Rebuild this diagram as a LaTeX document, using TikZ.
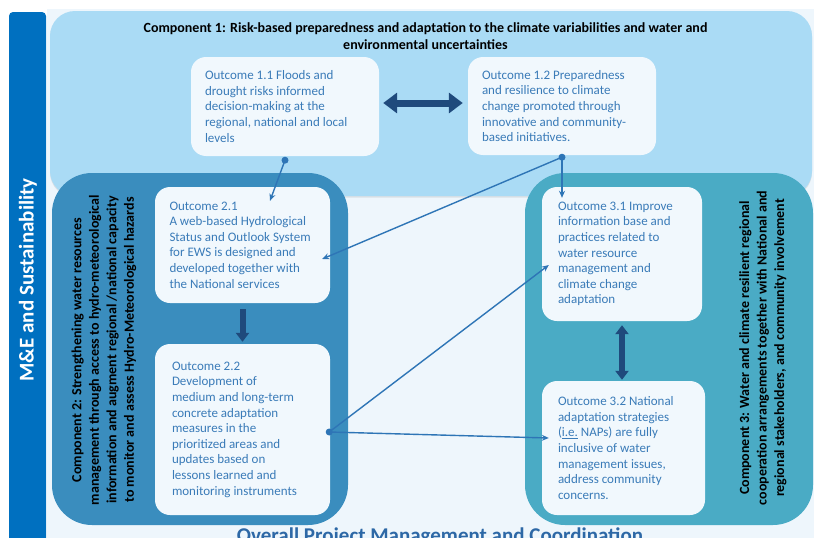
\documentclass[tikz,border=0pt]{standalone}
\usepackage{fontspec}
\setmainfont{Carlito}
\usetikzlibrary{arrows.meta,calc,shadows}

\definecolor{mebar}{HTML}{0070C0}
\definecolor{pale}{HTML}{EEF6FC}
\definecolor{compone}{HTML}{AADBF5}
\definecolor{comptwo}{HTML}{3A8DBE}
\definecolor{compthree}{HTML}{4AABC5}
\definecolor{boxfill}{HTML}{F1F8FD}
\definecolor{outtext}{HTML}{3A7BB8}
\definecolor{linkblue}{HTML}{2E75B6}
\definecolor{navy}{HTML}{1F4A7C}
\definecolor{footer}{HTML}{2D68A6}

\tikzset{
  compbox/.style={rounded corners=#1, inner sep=0pt, draw=none},
  outbox/.style={fill=boxfill, rounded corners=15pt, align=flush left,
    inner ysep=0pt, font=\fontsize{13}{15.6}\selectfont, text=outtext},
  complabel/.style={font=\bfseries\fontsize{14}{17.5}\selectfont,
    align=center, rotate=90, inner sep=0pt},
  linkline/.style={draw=linkblue, line width=1.4pt,
    -{Stealth[length=7pt,width=6pt]}},
  fatarrow/.style={draw=navy, line width=#1}
}

\begin{document}
\begin{tikzpicture}[x=1pt,y=-1pt]
\clip (0,0) rectangle (814,538);
\fill[white] (0,0) rectangle (814,538);

% page background and M&E bar
\fill[pale] (47,9) rectangle (814,538);
\fill[mebar, rounded corners=4pt] (9,12) rectangle (46,560);
\node[rotate=90, text=white, font=\bfseries\fontsize{21}{25}\selectfont,
  inner sep=0pt] (me) at (28,280) {M\&E and Sustainability};

% component panels
\node[compbox=25pt, fill=compone, minimum width=762, minimum height=185,
  drop shadow={opacity=0.18, shadow xshift=0pt, shadow yshift=-1.5pt}]
  (c1) at (431,103.5) {};
\node[compbox=40pt, fill=comptwo, minimum width=296, minimum height=352]
  (c2) at (200,349) {};
\node[compbox=40pt, fill=compthree, minimum width=288, minimum height=352]
  (c3) at (669,349) {};

% component titles
\node[font=\bfseries\fontsize{14}{17}\selectfont, align=center,
  inner sep=0pt] (t1) at (425.5,36)
  {Component 1: Risk-based preparedness and adaptation to the climate variabilities and water and\\
   environmental uncertainties};
\node[complabel] (t2) at (104,350)
  {Component 2: Strengthening water resources\\
   management through access to hydro-meteorological\\
   information and augment regional /national capacity\\
   to monitor and assess Hydro-Meteorological hazards};
\node[complabel] (t3) at (763,348)
  {Component 3: Water and climate resilient regional\\
   cooperation arrangements together with National and\\
   regional stakeholders, and community involvement};

% outcomes
\node[outbox, inner xsep=14pt, text width=160, minimum height=99]
  (o11) at (285,106.5)
  {Outcome 1.1 Floods and\\ drought risks informed\\ decision-making at the\\
   regional, national and local\\ levels};
\node[outbox, inner xsep=14pt, text width=160, minimum height=98]
  (o12) at (562,106)
  {Outcome 1.2 Preparedness\\ and resilience to climate\\ change promoted through\\
   innovative and community-\\ based initiatives.};
\node[outbox, inner xsep=14.5pt, text width=146, minimum height=116]
  (o21) at (242.5,245)
  {Outcome 2.1\\ A web-based Hydrological\\ Status and Outlook System\\
   for EWS is designed and\\ developed together with\\ the National services};
\node[outbox, inner xsep=17pt, text width=141, minimum height=171]
  (o22) at (242.5,429.5)
  {Outcome 2.2\\ Development of\\ medium and long-term\\ concrete adaptation\\
   measures in the\\ prioritized areas and\\ updates based on\\
   lessons learned and\\ monitoring instruments};
\node[outbox, inner xsep=16pt, text width=128, minimum height=134]
  (o31) at (622,254)
  {Outcome 3.1 Improve\\ information base and\\ practices related to\\
   water resource\\ management and\\ climate change\\ adaptation};
\node[outbox, inner xsep=16pt, text width=131, minimum height=134]
  (o32) at (623.5,448)
  {Outcome 3.2 National\\ adaptation strategies\\ (\underline{i.e.} NAPs) are fully\\
   inclusive of water\\ management issues,\\ address community\\ concerns.};

% block arrows between outcomes
\draw[fatarrow=7pt, {Triangle[width=20pt,length=14pt]}-{Triangle[width=20pt,length=14pt]}]
  ($(o11.east)+(4,-3.5)$) -- ($(o12.west)+(-5,-3)$);
\draw[fatarrow=6pt, -{Triangle[width=13pt,length=9pt]}]
  ($(o21.south)+(0,6)$) -- ($(o22.north)+(0,-2)$);
\draw[fatarrow=6pt, {Triangle[width=13pt,length=9pt]}-{Triangle[width=13pt,length=9pt]}]
  ($(o31.south)+(0,4)$) -- ($(o31.south |- o32.north)+(0,-1)$);

% thin links with dot origins
\coordinate (d11) at ($(o11.south)+(0,4)$);
\coordinate (d12) at ($(o12.south)+(0,2)$);
\coordinate (d22) at ($(o22.east)+(-1,2.5)$);
\draw[linkline] (d11) -- ($(o21.north)+(27.5,14)$);
\draw[linkline] (d12) -- ($(d12 |- o31.north)+(0,11)$);
\draw[linkline] (d12) -- ($(o21.east)+(-8,14)$);
\draw[linkline] (d22) -- ($(o31.west)+(7,11)$);
\draw[linkline] (d22) -- ($(o32.west)+(7,-10)$);
\fill[linkblue] (d11) circle (3.5);
\fill[linkblue] (d12) circle (3.5);
\fill[linkblue] (d22) circle (3.5);

% footer
\node[anchor=base, font=\bfseries\fontsize{21}{25}\selectfont, text=footer,
  inner sep=0pt] (foot) at (440,542) {Overall Project Management and Coordination};
\end{tikzpicture}
\end{document}
